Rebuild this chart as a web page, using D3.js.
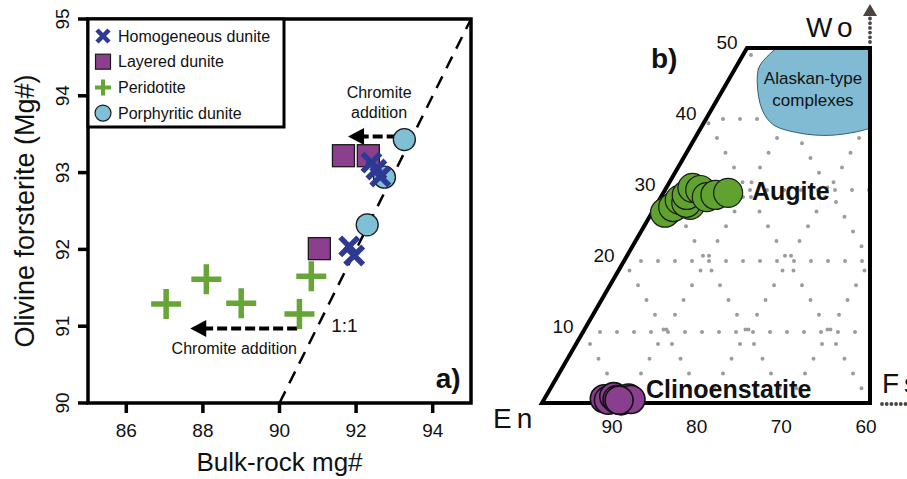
<!DOCTYPE html>
<html>
<head>
<meta charset="utf-8">
<script src="https://cdn.jsdelivr.net/npm/d3@7"></script>
<style>
    body { margin: 0; background: #fff; }
    text { font-family: "Liberation Sans", Arial, sans-serif; fill: #111; }
</style>
</head>
<body>
<div id="graph"></div>
<script>
const width = 907
const height = 479

// panel a data (bulk-rock mg#, olivine Fo)
const homogeneous = [{x: 92.40, y: 93.13}, {x: 92.53, y: 93.04}, {x: 92.63, y: 92.95}, {x: 91.82, y: 92.04}, {x: 91.95, y: 91.92}]
const layered = [{x: 91.67, y: 93.22}, {x: 92.32, y: 93.22}, {x: 91.04, y: 92.01}]
const peridotite = [{x: 87.04, y: 91.29}, {x: 88.09, y: 91.61}, {x: 89.0, y: 91.30}, {x: 90.83, y: 91.65}, {x: 90.52, y: 91.16}]
const porphyritic = [{x: 93.26, y: 93.43}, {x: 92.74, y: 92.94}, {x: 92.29, y: 92.32}]
const xTicks = [86, 88, 90, 92, 94]
const yTicks = [90, 91, 92, 93, 94, 95]
const oneToOne = [{x: 90, y: 90}, {x: 95, y: 95}]
const chromiteArrows = [{x1: 93.06, x2: 91.79, y: 93.47}, {x1: 90.46, x2: 87.67, y: 90.97}]
const legendItems = ["Homogeneous dunite", "Layered dunite", "Peridotite", "Porphyritic dunite"]

// panel b data (Wo, Fs in mol%)
const augite = [{wo: 27.2, fs: 1.8}, {wo: 26.8, fs: 1.6}, {wo: 27.6, fs: 2.2}, {wo: 28.6, fs: 2.5}, {wo: 27.9, fs: 4.1},
    {wo: 28.2, fs: 3.5}, {wo: 29.3, fs: 3.0}, {wo: 30.3, fs: 3.2}, {wo: 30.0, fs: 4.3}, {wo: 29.0, fs: 5.6},
    {wo: 29.3, fs: 6.5}, {wo: 29.6, fs: 7.9}]
const clinoenstatite = [{wo: 0.6, fs: 7.3}, {wo: 0.4, fs: 7.9}, {wo: 0.9, fs: 8.3}, {wo: 0.5, fs: 8.9},
    {wo: 0.3, fs: 9.5}, {wo: 0.7, fs: 10.2}, {wo: 0.5, fs: 10.6}, {wo: 0.4, fs: 9.2}]
const quad = [{wo: 0, fs: 0}, {wo: 0, fs: 40}, {wo: 50, fs: 15}, {wo: 50, fs: 0}]
const alaskan = [{wo: 50, fs: 3.6}, {wo: 47.5, fs: 2.8}, {wo: 45.1, fs: 3.7}, {wo: 41.3, fs: 6.2}, {wo: 39.2, fs: 8.6},
    {wo: 38.0, fs: 12.5}, {wo: 37.7, fs: 16.2}, {wo: 38.2, fs: 19.3}, {wo: 38.7, fs: 20.65}]
const alaskanCorners = [{wo: 50, fs: 15}]
const woTicks = [10, 20, 30, 40, 50]
const enTicks = [90, 80, 70, 60]
const gridValues = [10, 20, 30, 40]

const blue = "#2d3993"
const purple = "#8b3f8d"
const green = "#67a636"
const lightBlue = "#7fc0d6"

const svg = d3.select("#graph")
    .append("svg")
    .attr("width", width)
    .attr("height", height)

svg.append("rect").attr("width", width).attr("height", height).attr("fill", "#fff")

// ---------- panel a ----------
const x = d3.scaleLinear().domain([85, 95]).range([88, 471])
const y = d3.scaleLinear().domain([90, 95]).range([403, 19])

function cross(g, cx, cy, r, color, w) {
    g.append("path")
        .attr("d", `M${cx - r},${cy - r}L${cx + r},${cy + r}M${cx - r},${cy + r}L${cx + r},${cy - r}`)
        .attr("stroke", color).attr("stroke-width", w).attr("fill", "none")
}
function plus(g, cx, cy, r, color, w) {
    g.append("path")
        .attr("d", `M${cx - r},${cy}L${cx + r},${cy}M${cx},${cy - r}L${cx},${cy + r}`)
        .attr("stroke", color).attr("stroke-width", w).attr("fill", "none")
}

// ticks
const axisA = svg.append("g")
xTicks.forEach(t => {
    axisA.append("line")
        .attr("x1", x(t)).attr("x2", x(t))
        .attr("y1", y(90)).attr("y2", y(90) + 10)
        .attr("stroke", "#000").attr("stroke-width", 3.5)
    axisA.append("text")
        .text(t)
        .attr("x", x(t))
        .attr("y", y(90) + 34)
        .attr("text-anchor", "middle")
        .style("font-size", "19px")
})
yTicks.forEach(t => {
    axisA.append("line")
        .attr("x1", x(85) - 10).attr("x2", x(85))
        .attr("y1", y(t)).attr("y2", y(t))
        .attr("stroke", "#000").attr("stroke-width", 3.5)
    axisA.append("text")
        .text(t)
        .attr("transform", `translate(${x(85) - 19},${y(t)}) rotate(-90)`)
        .attr("text-anchor", "middle")
        .style("font-size", "19px")
})
svg.append("text")
    .text("Bulk-rock mg#")
    .attr("x", x(90))
    .attr("y", 471)
    .attr("text-anchor", "middle")
    .style("font-size", "26px")
svg.append("text")
    .text("Olivine forsterite (Mg#)")
    .attr("transform", `translate(34,${y(92.5)}) rotate(-90)`)
    .attr("text-anchor", "middle")
    .style("font-size", "27px")

// 1:1 line
svg.append("path")
    .datum(oneToOne)
    .attr("d", d3.line().x(d => x(d.x)).y(d => y(d.y)))
    .attr("stroke", "#000")
    .attr("stroke-width", 2.5)
    .attr("stroke-dasharray", "13 9")
    .attr("fill", "none")

// chromite arrows
chromiteArrows.forEach(a => {
    const tip = x(a.x2)
    svg.append("line")
        .attr("x1", x(a.x1)).attr("x2", tip + 12)
        .attr("y1", y(a.y)).attr("y2", y(a.y))
        .attr("stroke", "#000").attr("stroke-width", 4)
        .attr("stroke-dasharray", "10 4")
    svg.append("path")
        .attr("d", `M${tip},${y(a.y)}L${tip + 16},${y(a.y) - 8.5}L${tip + 16},${y(a.y) + 8.5}Z`)
        .attr("fill", "#000")
})
svg.append("text").text("Chromite").attr("x", x(92.6)).attr("y", y(93.97))
    .attr("text-anchor", "middle").style("font-size", "16px")
svg.append("text").text("addition").attr("x", x(92.6)).attr("y", y(93.71))
    .attr("text-anchor", "middle").style("font-size", "16px")
svg.append("text").text("Chromite addition").attr("x", x(88.82)).attr("y", y(90.64))
    .attr("text-anchor", "middle").style("font-size", "16px")
svg.append("text").text("1:1").attr("x", x(91.35)).attr("y", y(90.92))
    .style("font-size", "19px")

// points
const pts = svg.append("g")
pts.selectAll(".porph")
    .data(porphyritic)
    .join("circle")
    .attr("cx", d => x(d.x)).attr("cy", d => y(d.y)).attr("r", 11)
    .attr("fill", lightBlue).attr("stroke", "#1a1a1a").attr("stroke-width", 1.3)
pts.selectAll(".layered")
    .data(layered)
    .join("rect")
    .attr("x", d => x(d.x) - 11).attr("y", d => y(d.y) - 11)
    .attr("width", 22).attr("height", 22)
    .attr("fill", purple).attr("stroke", "#1a1a1a").attr("stroke-width", 1.3)
homogeneous.forEach(d => cross(pts, x(d.x), y(d.y), 9, blue, 5.5))
peridotite.forEach(d => plus(pts, x(d.x), y(d.y), 15, green, 5.5))

// frame
svg.append("rect")
    .attr("x", x(85)).attr("y", y(95))
    .attr("width", x(95) - x(85)).attr("height", y(90) - y(95))
    .attr("fill", "none").attr("stroke", "#000").attr("stroke-width", 3.5)

// legend
const legend = svg.append("g")
legend.append("rect")
    .attr("x", x(85)).attr("y", y(95))
    .attr("width", 196).attr("height", 108)
    .attr("fill", "#fff").attr("stroke", "#000").attr("stroke-width", 3)
legendItems.forEach((name, i) => {
    const ly = 36 + i * 25.7
    const lx = 103
    if (i == 0) cross(legend, lx, ly, 6, blue, 4.5)
    if (i == 1) legend.append("rect").attr("x", lx - 7.5).attr("y", ly - 7.5).attr("width", 15).attr("height", 15)
        .attr("fill", purple).attr("stroke", "#1a1a1a").attr("stroke-width", 1.2)
    if (i == 2) plus(legend, lx, ly, 8, green, 4)
    if (i == 3) legend.append("circle").attr("cx", lx).attr("cy", ly).attr("r", 8)
        .attr("fill", lightBlue).attr("stroke", "#1a1a1a").attr("stroke-width", 1.2)
    legend.append("text")
        .text(name)
        .attr("x", 118)
        .attr("y", ly)
        .attr("dominant-baseline", "central")
        .style("font-size", "16px")
})

svg.append("text").text("a)").attr("x", x(94.73)).attr("y", y(90.2))
    .attr("text-anchor", "end").style("font-size", "28px").style("font-weight", "bold")

// ---------- panel b ----------
const tx = d3.scaleLinear().domain([0, 40]).range([542, 870])
const ty = d3.scaleLinear().domain([0, 50]).range([403, 48])
const enLabel = d3.scaleLinear().domain([90, 60]).range([612, 866])
const px = d => tx(d.fs + d.wo / 2)
const py = d => ty(d.wo)
const ternLine = d3.line().x(px).y(py)

svg.append("clipPath").attr("id", "quad-clip")
    .append("path").attr("d", ternLine(quad) + "Z")

// dotted ternary grid
const grid = []
gridValues.forEach(v => grid.push([{wo: v, fs: 0}, {wo: v, fs: 40 - v / 2}]))
;[10, 20, 30].forEach(f => grid.push([{wo: 0, fs: f}, {wo: Math.min(50, 2 * (40 - f)), fs: f}]))
;[90, 80, 70, 60].forEach(e => grid.push([{wo: 0, fs: 100 - e}, {wo: 100 - e, fs: 0}]))
grid.push([{wo: 20, fs: 30}, {wo: 50, fs: 0}])
svg.append("g")
    .attr("clip-path", "url(#quad-clip)")
    .selectAll("path")
    .data(grid)
    .join("path")
    .attr("d", ternLine)
    .attr("stroke", "#9c9c9c")
    .attr("stroke-width", 4)
    .attr("stroke-linecap", "round")
    .attr("stroke-dasharray", "0 17")
    .attr("fill", "none")

// Alaskan-type field
const blobCurve = d3.line().x(px).y(py).curve(d3.curveCatmullRom)
svg.append("path")
    .attr("d", blobCurve(alaskan) + alaskanCorners.map(d => `L${px(d)},${py(d)}`).join("") + "Z")
    .attr("fill", "#80bbd3")
    .attr("stroke", "#2f5f74")
    .attr("stroke-width", 1)
svg.append("text").text("Alaskan-type").attr("x", 813).attr("y", 84)
    .attr("text-anchor", "middle").style("font-size", "17px")
svg.append("text").text("complexes").attr("x", 813).attr("y", 106)
    .attr("text-anchor", "middle").style("font-size", "17px")

// outline
svg.append("path")
    .attr("d", ternLine(quad) + "Z")
    .attr("fill", "none")
    .attr("stroke", "#000")
    .attr("stroke-width", 4)
    .attr("stroke-linejoin", "miter")

// axis labels
woTicks.forEach(w => {
    svg.append("text")
        .text(w)
        .attr("x", tx(w / 2) - 20)
        .attr("y", ty(w) - 6)
        .attr("text-anchor", "middle")
        .attr("dominant-baseline", "central")
        .style("font-size", "19px")
})
enTicks.forEach(e => {
    svg.append("text")
        .text(e)
        .attr("x", enLabel(e))
        .attr("y", 433)
        .attr("text-anchor", "middle")
        .style("font-size", "19px")
})

// pyroxene analyses
svg.append("g").selectAll("circle")
    .data(augite)
    .join("circle")
    .attr("cx", px).attr("cy", py).attr("r", 14.5)
    .attr("fill", "#5fa22f").attr("stroke", "#1a1a1a").attr("stroke-width", 1.2)
svg.append("g").selectAll("circle")
    .data(clinoenstatite)
    .join("circle")
    .attr("cx", px).attr("cy", py).attr("r", 14)
    .attr("fill", "#8a3f8e").attr("stroke", "#111").attr("stroke-width", 1.6)

svg.append("text").text("Augite").attr("x", 752).attr("y", 200)
    .style("font-size", "25px").style("font-weight", "bold")
svg.append("text").text("Clinoenstatite").attr("x", 646).attr("y", 398)
    .style("font-size", "25px").style("font-weight", "bold")
svg.append("text").text("b)").attr("x", 651).attr("y", 68)
    .style("font-size", "28px").style("font-weight", "bold")

// end-member labels and arrows
const endColor = "#4b4440"
svg.append("text").text("Wo").attr("x", 806).attr("y", 37)
    .style("font-size", "28px").style("letter-spacing", "5px")
svg.append("text").text("En").attr("x", 493).attr("y", 428)
    .style("font-size", "28px").style("letter-spacing", "5px")
svg.append("text").text("Fs").attr("x", 882).attr("y", 393)
    .style("font-size", "28px").style("letter-spacing", "5px")
svg.append("line")
    .attr("x1", tx(40)).attr("x2", tx(40))
    .attr("y1", ty(50) - 6).attr("y2", 17)
    .attr("stroke", endColor).attr("stroke-width", 3.8)
    .attr("stroke-linecap", "round").attr("stroke-dasharray", "0 4.7")
svg.append("path")
    .attr("d", `M${tx(40)},4L${tx(40) + 7},16L${tx(40) - 7},16Z`)
    .attr("fill", endColor)
svg.append("line")
    .attr("x1", tx(40) + 12).attr("x2", 912)
    .attr("y1", ty(0) + 1).attr("y2", ty(0) + 1)
    .attr("stroke", endColor).attr("stroke-width", 3.8)
    .attr("stroke-linecap", "round").attr("stroke-dasharray", "0 4.7")
</script>
</body>
</html>
